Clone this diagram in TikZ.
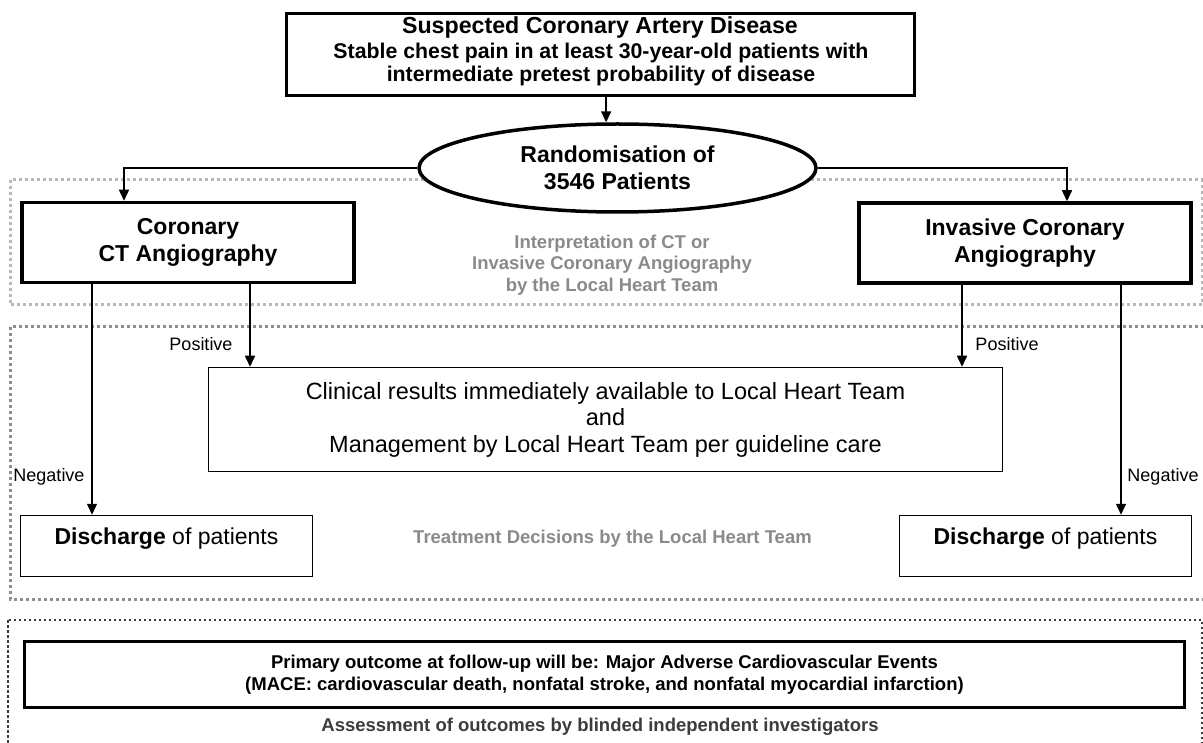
\documentclass[tikz,border=0pt]{standalone}
\usepackage{fontspec}
\setmainfont{Liberation Sans}
\usetikzlibrary{arrows.meta,shapes.geometric}
\definecolor{zoneA}{HTML}{B8B8B8}
\definecolor{zoneB}{HTML}{8E8E8E}
\definecolor{zoneC}{HTML}{3C3C3C}
\definecolor{txtgray}{HTML}{8A8A8A}
\definecolor{txtdark}{HTML}{3C3C3C}
\begin{document}
\begin{tikzpicture}[x=1pt,y=-1pt,
  thickbox/.style={draw, line width=3.5pt, inner sep=0pt, fill=white},
  thinbox/.style={draw, line width=1.5pt, inner sep=0pt, fill=white},
  conn/.style={line width=1.5pt, -{Triangle[length=11pt,width=10pt]}},
  zoneone/.style={draw=zoneA, line width=3pt, dash pattern=on 3pt off 3pt},
  zonetwo/.style={draw=zoneB, line width=3pt, dash pattern=on 3pt off 3pt},
  zonethree/.style={draw=zoneC, line width=2.5pt, dash pattern=on 2.5pt off 2.5pt},
  bigbold/.style={font=\bfseries\fontsize{23}{26.5}\selectfont, align=center},
  graylabel/.style={font=\bfseries\fontsize{18.5}{21.5}\selectfont, align=center, text=txtgray},
  edgelabel/.style={font=\fontsize{18}{20}\selectfont, inner sep=0pt}
]
\useasboundingbox (0,0) rectangle (1203,743);

% zones
\draw[zoneone] (10,180) rectangle (1202,305);
\draw[zonetwo] (10,327) rectangle (1220,599);
\draw[zonethree] (8,620) rectangle (1202,770);

% boxes
\node[thickbox, minimum width=628pt, minimum height=82pt] (top) at (600.5,54.5) {};
\node[font=\bfseries\fontsize{23.2}{24}\selectfont] (toph) at (600,27.5) {Suspected Coronary Artery Disease};
\node[font=\bfseries\fontsize{21.3}{23.5}\selectfont, align=center] (tops) at (601,64.5) {Stable chest pain in at least 30-year-old patients with\\intermediate pretest probability of disease};

\node[ellipse, draw, line width=3.5pt, fill=white, inner sep=0pt, minimum width=397pt, minimum height=88pt, bigbold] (ell) at (617.5,168) {Randomisation of\\3546 Patients};

\node[thickbox, minimum width=332pt, minimum height=80pt, bigbold] (ct) at (188,242.5) {Coronary\\CT Angiography};
\node[thickbox, minimum width=332pt, minimum height=80pt, bigbold] (ica) at (1025,243) {Invasive Coronary\\Angiography};

\node[graylabel] (interp) at (612,265) {Interpretation of CT or\\Invasive Coronary Angiography\\by the Local Heart Team};

\node[thinbox, minimum width=794pt, minimum height=104pt, align=center, font=\fontsize{23.5}{26.5}\selectfont] (clin) at (605.5,419.5) {Clinical results immediately available to Local Heart Team\\and\\Management by Local Heart Team per guideline care};

\node[thinbox, minimum width=292pt, minimum height=61pt] (dischL) at (166.5,546) {};
\node[thinbox, minimum width=292pt, minimum height=61pt] (dischR) at (1045.5,546) {};
\node[font=\fontsize{23}{26}\selectfont] (dischLt) at (166.5,539) {\textbf{Discharge} of patients};
\node[font=\fontsize{23}{26}\selectfont] (dischRt) at (1045.5,539) {\textbf{Discharge} of patients};

\node[graylabel] (treat) at (612.5,539) {Treatment Decisions by the Local Heart Team};

\node[thickbox, minimum width=1160pt, minimum height=66pt, align=center, font=\bfseries\fontsize{18.5}{22}\selectfont] (prim) at (604.5,674.5) {Primary outcome at follow-up will be: Major Adverse Cardiovascular Events\\(MACE: cardiovascular death, nonfatal stroke, and nonfatal myocardial infarction)};
\node[font=\bfseries\fontsize{18.5}{21}\selectfont, text=txtdark] (assess) at (600,727) {Assessment of outcomes by blinded independent investigators};

% connectors
\draw[conn] (top.south -| ell.104) -- (ell.104);
\draw[conn] (ell.west) -| ([xshift=-64pt]ct.north);
\draw[conn] (ell.east) -| ([xshift=42pt]ica.north);
\draw[conn] ([xshift=-96pt]ct.south) -- ([xshift=-74.5pt]dischL.north);
\draw[conn] ([xshift=62pt]ct.south) -- ([xshift=62pt]ct.south |- clin.north);
\draw[conn] ([xshift=-63pt]ica.south) -- ([xshift=-63pt]ica.south |- clin.north);
\draw[conn] ([xshift=96pt]ica.south) -- ([xshift=75.5pt]dischR.north);

% edge labels
\node[edgelabel] (posL) at (201,344) {Positive};
\node[edgelabel] (posR) at (1007,344) {Positive};
\node[edgelabel] (negL) at (49,477) {Negative};
\node[edgelabel] (negR) at (1163,477) {Negative};
\end{tikzpicture}
\end{document}
